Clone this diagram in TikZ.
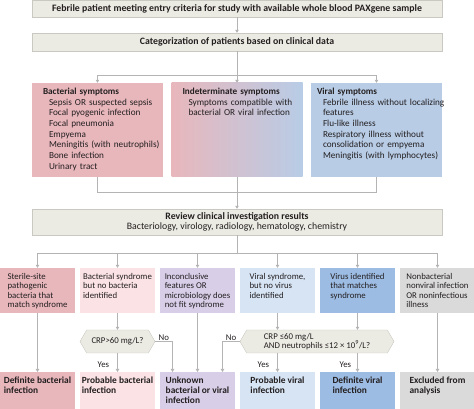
\documentclass[tikz,border=0pt]{standalone}
\usepackage{fontspec}
\setmainfont{Carlito}
\usepackage{xcolor}
\usetikzlibrary{positioning,arrows.meta,shapes.symbols}
\definecolor{beige}{RGB}{236,235,227}
\definecolor{bactpink}{RGB}{232,183,188}
\definecolor{lightpink}{RGB}{251,226,229}
\definecolor{lavender}{RGB}{216,206,232}
\definecolor{viralblue}{RGB}{184,204,230}
\definecolor{lightblue}{RGB}{214,228,244}
\definecolor{midblue}{RGB}{157,188,227}
\definecolor{greybox}{RGB}{218,218,218}
\definecolor{linegrey}{RGB}{180,180,180}
\definecolor{txt}{RGB}{35,31,32}

\begin{document}
\begin{tikzpicture}[x=1pt,y=1pt,
    every node/.style={font=\fontsize{8.8}{9.6}\selectfont, text=txt},
    wide/.style={fill=beige, draw=beige!85!black, line width=0.4pt, minimum width=410pt, inner sep=0pt, align=center, font=\fontsize{9.8}{10.3}\selectfont},
    symbox/.style={minimum width=131pt, minimum height=94pt, inner sep=0pt},
    symtext/.style={anchor=north west, align=left, inner sep=0pt, font=\fontsize{9.2}{10.7}\selectfont},
    cell/.style={minimum width=75pt, minimum height=45pt, inner sep=0pt},
    outc/.style={minimum width=75pt, minimum height=50pt, inner sep=0pt, anchor=north},
    celltext/.style={align=left, inner sep=0pt},
    outtext/.style={celltext, font=\fontsize{9.4}{9.8}\selectfont\bfseries},
    query/.style={signal, signal to=east and west, signal pointer angle=120, fill=beige, draw=beige!85!black, line width=0.4pt, minimum height=23pt, inner sep=0pt},
    link/.style={draw=linegrey, line width=0.7pt},
    arr/.style={link, -{Triangle[width=3.5pt,length=3pt]}},
    lbl/.style={inner sep=0pt}]
  \useasboundingbox (0,0) rectangle (474,409);

  % entry and first split
  \node[wide, minimum height=17.5pt] (entry) at (237,400.5) {\textbf{Febrile patient meeting entry criteria for study with available whole blood PAXgene sample}};
  \node[wide, minimum height=18pt] (categ) at (237,367) {\textbf{Categorization of patients based on clinical data}};
  \draw[arr] (entry) -- (categ);

  % symptom groups
  \node[symbox, fill=bactpink] (bact) at (97.5,279) {};
  \node[symbox, left color=bactpink, right color=viralblue] (indet) at (237,279) {};
  \node[symbox, fill=viralblue] (viral) at (376.5,279) {};
  \node[symtext, text width=126pt, xshift=11pt, yshift=-5pt] (bacttxt) at (bact.north west)
    {\textbf{Bacterial symptoms}\par{\leftskip=6pt Sepsis OR suspected sepsis\par Focal pyogenic infection\par Focal pneumonia\par Empyema\par Meningitis (with neutrophils)\par Bone infection\par Urinary tract\par}};
  \node[symtext, text width=126pt, xshift=11pt, yshift=-5pt] (indettxt) at (indet.north west)
    {\textbf{Indeterminate symptoms}\par{\leftskip=6pt Symptoms compatible with\\bacterial OR viral infection\par}};
  \node[symtext, text width=134pt, xshift=6pt, yshift=-5pt] (viraltxt) at (viral.north west)
    {\textbf{Viral symptoms}\par{\leftskip=6pt Febrile illness without localizing\\features\par Flu-like illness\par Respiratory illness without\\consolidation or empyema\par Meningitis (with lymphocytes)\par}};

  \draw[link] (categ.south) -- ++(0,-24) coordinate (split1);
  \draw[link] (split1 -| bact.north) -- (split1 -| viral.north);
  \foreach \n in {bact,indet,viral}
    \draw[arr] (split1 -| \n.north) -- (\n.north);

  % review
  \node[wide, minimum height=26pt] (review) at (237,187) {\textbf{Review clinical investigation results}\\Bacteriology, virology, radiology, hematology, chemistry};
  \draw[link] (bact.south) -- ++(0,-15) coordinate (join1) -- (join1 -| viral.south) -- (viral.south);
  \draw[arr] (indet) -- (review);

  % findings
  \foreach \i/\c in {1/bactpink,2/lightpink,3/lavender,4/lightblue,5/midblue,6/greybox}
    \node[cell, fill=\c] (c\i) at ({80*(\i-1)+37.5},118.5) {};
  \node[celltext, below=5pt] (c1t) at (c1.north) {Sterile-site\\pathogenic\\bacteria that\\match syndrome};
  \node[celltext, below=5pt] (c2t) at (c2.north) {Bacterial syndrome\\but no bacteria\\identified};
  \node[celltext, below=5pt] (c3t) at (c3.north) {Inconclusive\\features OR\\microbiology does\\not fit syndrome};
  \node[celltext, below=5pt] (c4t) at (c4.north) {Viral syndrome,\\but no virus\\identified};
  \node[celltext, below=5pt] (c5t) at (c5.north) {Virus identified\\that matches\\syndrome};
  \node[celltext, below=5pt] (c6t) at (c6.north) {Nonbacterial\\nonviral infection\\OR noninfectious\\illness};

  \draw[link] (review.south) -- ++(0,-18) coordinate (split2);
  \draw[link] (split2 -| c1.north) -- (split2 -| c6.north);
  \foreach \i in {1,...,6}
    \draw[arr] (split2 -| c\i.north) -- (c\i.north);

  % lab thresholds
  \node[query, minimum width=75pt] (q1) at (117.5,67.5) {CRP>60 mg/L?};
  \node[query, minimum width=154pt, align=left] (q2) at (317,67.5) {CRP ≤60 mg/L\\AND neutrophils ≤12 × 10\textsuperscript{9}/L?};

  % outcomes
  \foreach \i/\c in {1/bactpink,2/lightpink,3/lavender,4/lightblue,5/midblue,6/greybox}
    \node[outc, fill=\c] (o\i) at ({80*(\i-1)+37.5},37) {};
  \node[outtext, below=5pt] (o1t) at (o1.north) {Definite bacterial\\infection};
  \node[outtext, below=5pt] (o2t) at (o2.north) {Probable bacterial\\infection};
  \node[outtext, below=5pt] (o3t) at (o3.north) {Unknown\\bacterial or viral\\infection};
  \node[outtext, below=5pt] (o4t) at (o4.north) {Probable viral\\infection};
  \node[outtext, below=5pt] (o5t) at (o5.north) {Definite viral\\infection};
  \node[outtext, below=5pt] (o6t) at (o6.north) {Excluded from\\analysis};

  \draw[arr] (c1.south) -- (o1.north);
  \draw[arr] (c3.south) -- (o3.north);
  \draw[arr] (c6.south) -- (o6.north);
  \draw[arr] (c2.south) -- (q1.north);
  \draw[arr] (q1.south) -- node[lbl, left=8pt, pos=0.6] {Yes} (o2.north);
  \draw[arr] (c4.south) -- (c4.south |- q2.north);
  \draw[arr] (c5.south) -- (c5.south |- q2.north);
  \draw[arr] (c4.south |- q2.south) -- node[lbl, left=8pt, pos=0.6] {Yes} (o4.north);
  \draw[arr] (c5.south |- q2.south) -- node[lbl, left=6pt, pos=0.6] {Yes} (o5.north);
  \draw[arr] (q1.east) -| node[lbl, above=1pt, pos=0.25] {No} ([xshift=-25pt]o3.north);
  \draw[arr] (q2.west) -| node[lbl, above=1pt, pos=0.25] {No} ([xshift=25pt]o3.north);
\end{tikzpicture}
\end{document}
